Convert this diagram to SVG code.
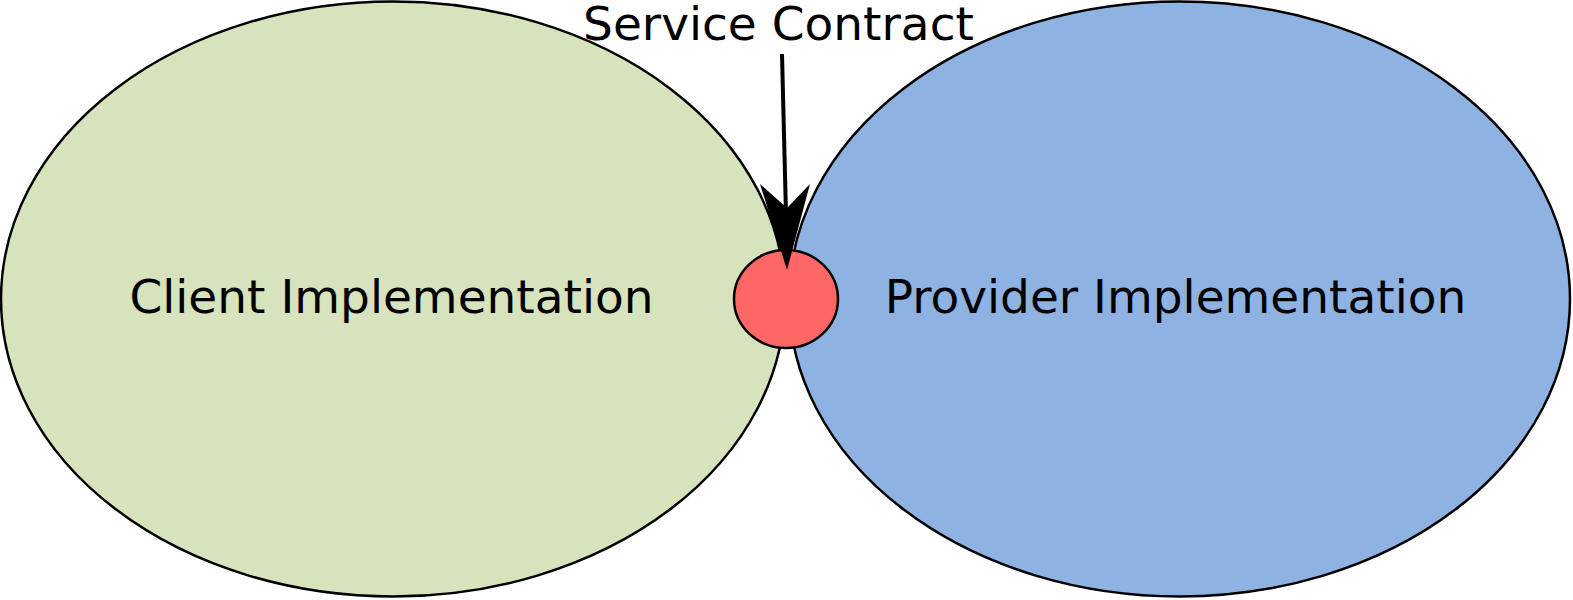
<svg xmlns="http://www.w3.org/2000/svg" width="1573" height="600" viewBox="0 0 1573 600">
<style>
.n{stroke:#000;stroke-width:2.5}
.t{font-family:"DejaVu Sans",sans-serif;font-size:47px;fill:#000;text-anchor:middle}
</style>
<rect width="1573" height="600" fill="#fff"/>
<g id="client"><ellipse class="n" cx="393" cy="299" rx="392" ry="297.5" fill="#d7e3bd"/><text class="t" x="391.5" y="313">Client Implementation</text></g>
<g id="provider"><ellipse class="n" cx="1179.5" cy="299" rx="390.5" ry="297.5" fill="#8eb2e2"/><text class="t" x="1175.5" y="313">Provider Implementation</text></g>
<g id="contract"><ellipse class="n" cx="786" cy="299" rx="52" ry="49" fill="#ff6666"/></g>
<g id="label"><text class="t" x="778.5" y="40">Service Contract</text></g>
<g id="connectors">
<line x1="782" y1="54" x2="786" y2="215" stroke="#000" stroke-width="4"/>
<polygon points="760,184 787,208 810,184 787,270" fill="#000"/>
</g>
</svg>
